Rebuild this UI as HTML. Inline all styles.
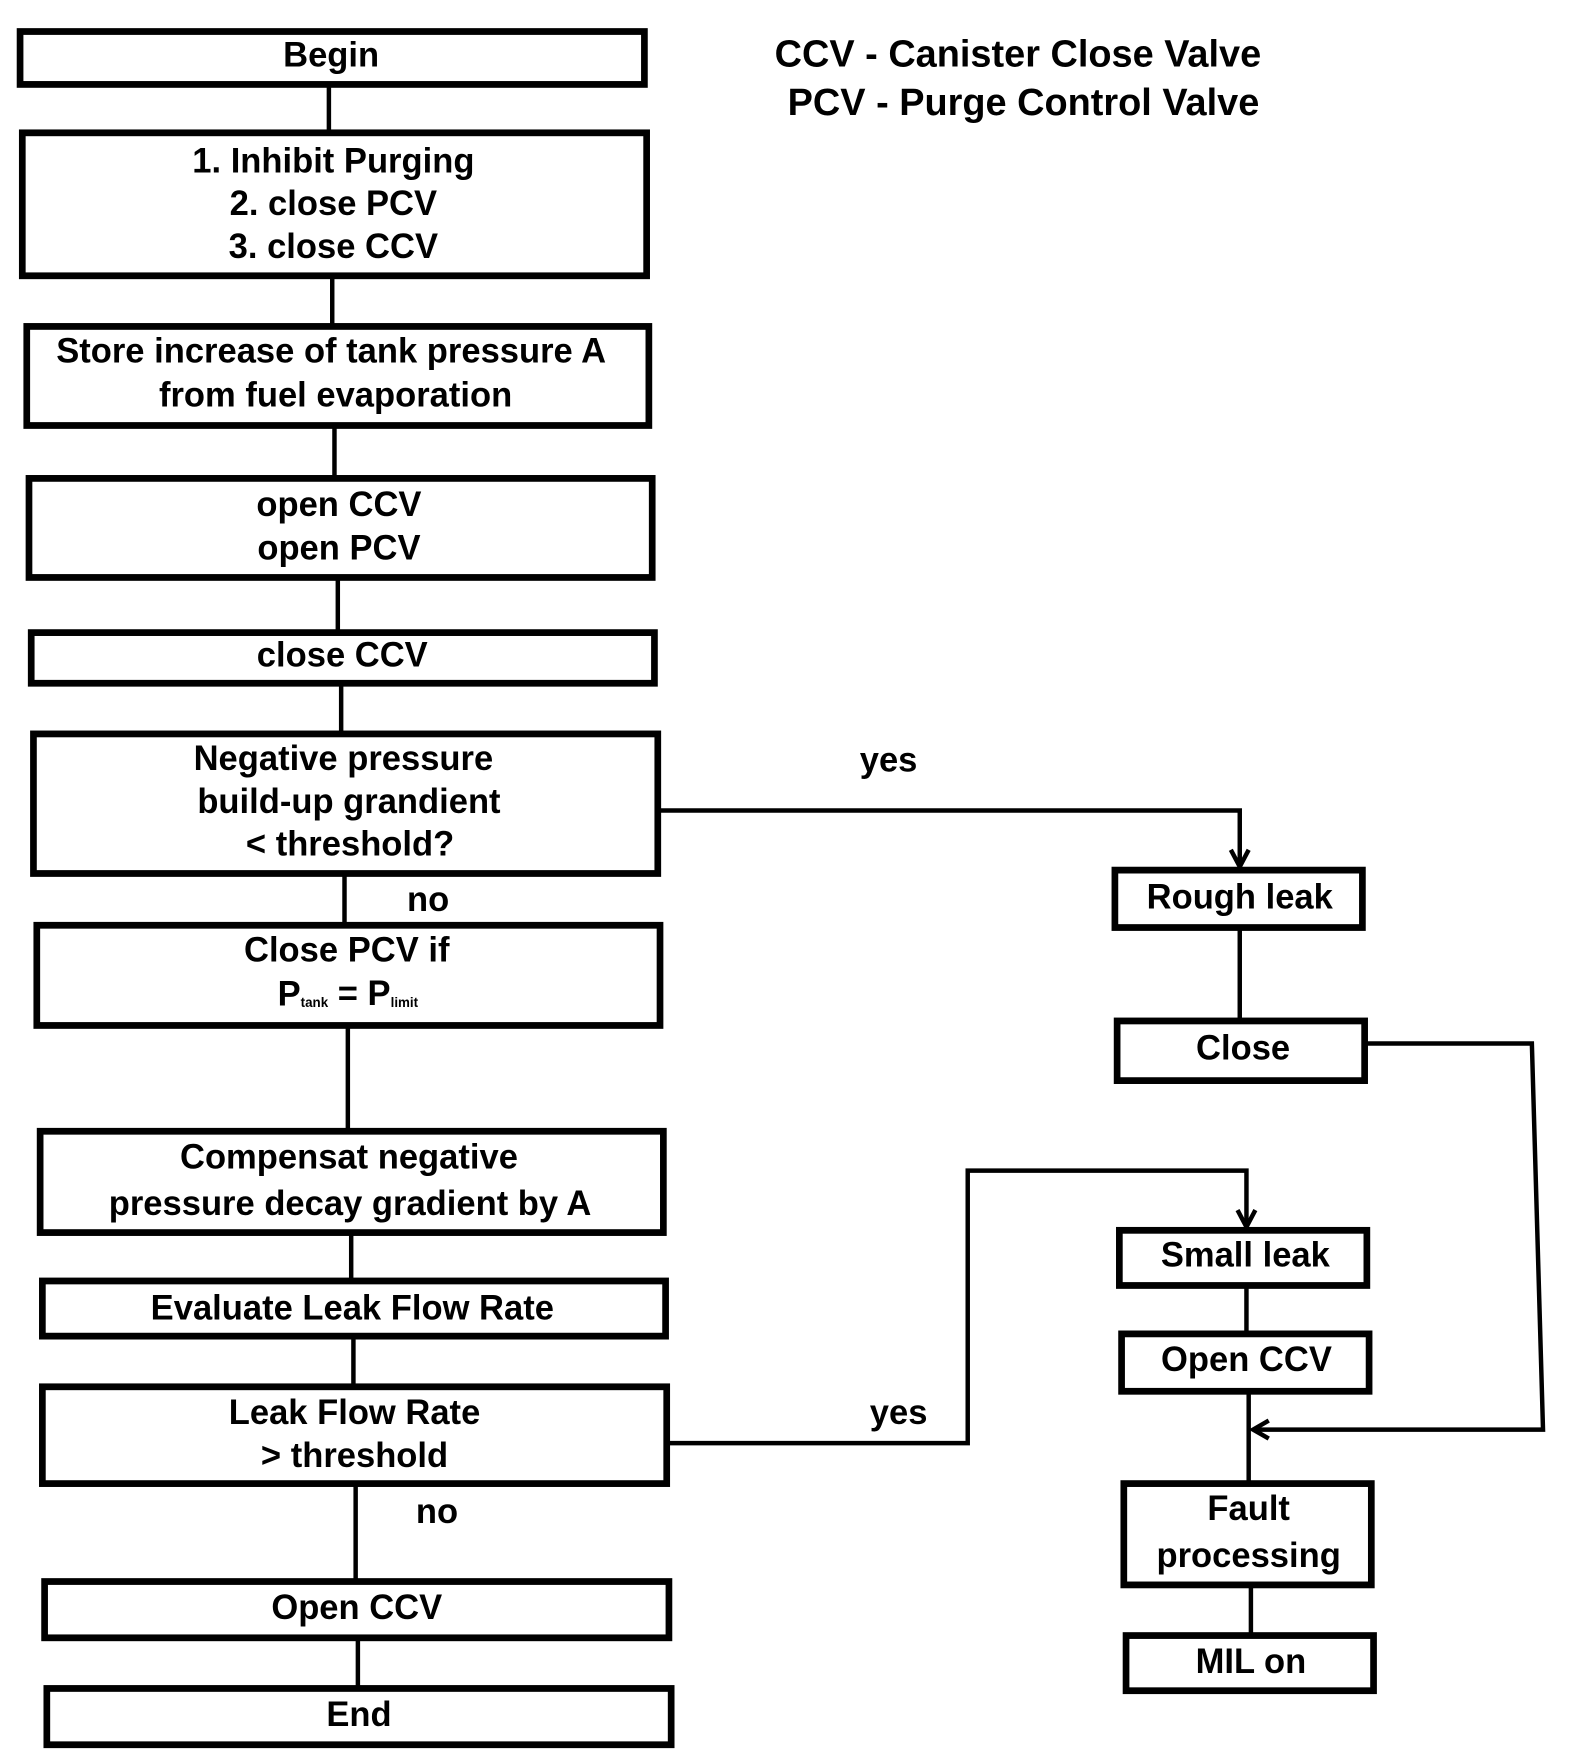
<!DOCTYPE html>
<html><head><meta charset="utf-8"><style>
html,body{margin:0;padding:0;background:#fff;}
svg{display:block;}
text{font-family:"Liberation Sans",sans-serif;font-weight:bold;font-size:31px;fill:#000;text-anchor:middle;dominant-baseline:middle;}
</style></head><body>
<svg width="1572" height="1756" viewBox="0 0 1410 1560" preserveAspectRatio="none" xmlns="http://www.w3.org/2000/svg">
<g fill="none" stroke="#000" stroke-width="6">
<rect x="18" y="28" width="560" height="47"/>
<rect x="20" y="118" width="560" height="127"/>
<rect x="24" y="290" width="558" height="88"/>
<rect x="26" y="425" width="559" height="88"/>
<rect x="28" y="562" width="559" height="45"/>
<rect x="30" y="652" width="560" height="124"/>
<rect x="33" y="822" width="559" height="89"/>
<rect x="36" y="1005" width="559" height="90"/>
<rect x="38" y="1138" width="559" height="49"/>
<rect x="38" y="1232" width="560" height="86"/>
<rect x="40" y="1405" width="560" height="50"/>
<rect x="42" y="1500" width="560" height="50"/>
<rect x="1000" y="773" width="222" height="51"/>
<rect x="1002" y="907" width="222" height="53"/>
<rect x="1004" y="1093" width="222" height="49"/>
<rect x="1006" y="1185" width="222" height="51"/>
<rect x="1008" y="1318" width="222" height="90"/>
<rect x="1010" y="1453" width="222" height="49"/>
</g>
<g fill="none" stroke="#000" stroke-width="4">
<path d="M295 75V118M298 245V290M300 378V425M303 513V562M306 607V652M309 776V822M312 911V1005M315 1095V1138M317 1187V1232M319 1318V1405M321 1455V1500"/>
<path d="M590 720H1112V770"/>
<path d="M1104 755L1112 770L1120 755"/>
<path d="M1112 824V907M1118 1142V1185M1120 1236V1318M1122 1408V1453"/>
<path d="M1224 927H1374L1384 1270H1124"/>
<path d="M1138 1262L1124 1270L1138 1278"/>
<path d="M598 1282H868V1040H1118V1090"/>
<path d="M1110 1075L1118 1090L1126 1075"/>
</g>
<text x="297" y="51">Begin</text>
<text x="299" y="145">1. Inhibit Purging</text>
<text x="299" y="183">2. close PCV</text>
<text x="299" y="221">3. close CCV</text>
<text x="297" y="314">Store increase of tank pressure A</text>
<text x="301" y="353">from fuel evaporation</text>
<text x="304" y="450">open CCV</text>
<text x="304" y="489">open PCV</text>
<text x="307" y="584">close CCV</text>
<text x="308" y="676">Negative pressure</text>
<text x="313" y="714">build-up grandient</text>
<text x="314" y="752">&lt; threshold?</text>
<text x="384" y="801">no</text>
<text x="311" y="846">Close PCV if</text>
<text x="312" y="885">P<tspan font-size="12" dy="6">tank</tspan><tspan dy="-6"> = P</tspan><tspan font-size="12" dy="6">limit</tspan></text>
<text x="313" y="1030">Compensat negative</text>
<text x="314" y="1071">pressure decay gradient by A</text>
<text x="316" y="1164">Evaluate Leak Flow Rate</text>
<text x="318" y="1257">Leak Flow Rate</text>
<text x="318" y="1295">&gt; threshold</text>
<text x="392" y="1345">no</text>
<text x="320" y="1430">Open CCV</text>
<text x="322" y="1525">End</text>
<text x="913" y="50" style="font-size:34px">CCV - Canister Close Valve</text>
<text x="918" y="93" style="font-size:34px">PCV - Purge Control Valve</text>
<text x="797" y="677">yes</text>
<text x="806" y="1257">yes</text>
<text x="1112" y="799">Rough leak</text>
<text x="1115" y="933">Close</text>
<text x="1117" y="1117">Small leak</text>
<text x="1118" y="1210">Open CCV</text>
<text x="1120" y="1342">Fault</text>
<text x="1120" y="1384">processing</text>
<text x="1122" y="1478">MIL on</text>
</svg>
</body></html>
